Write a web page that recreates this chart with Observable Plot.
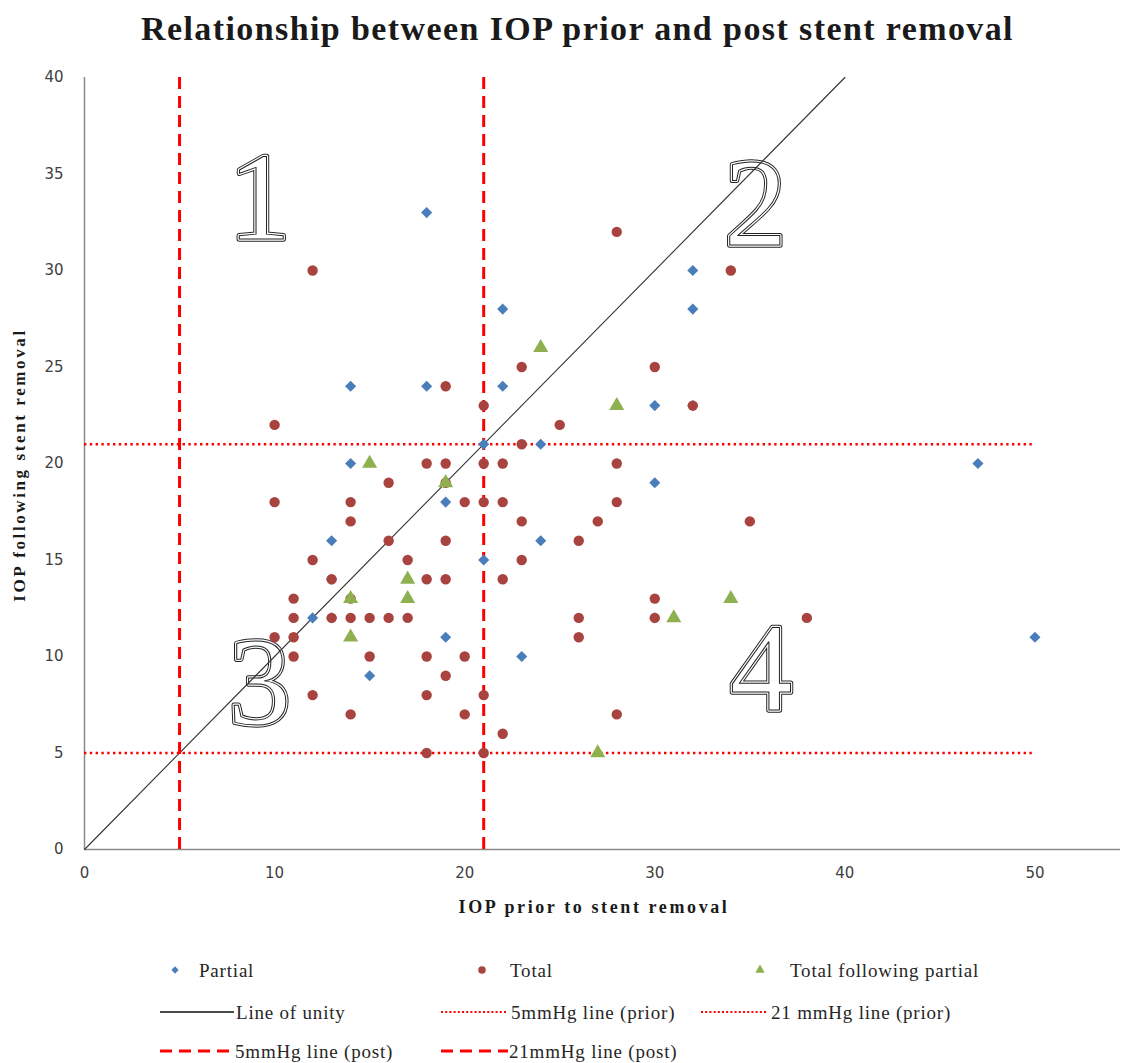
<!DOCTYPE html>
<html><head><meta charset="utf-8">
<script src="https://cdn.jsdelivr.net/npm/d3@7"></script>
<script src="https://cdn.jsdelivr.net/npm/@observablehq/plot@0.6"></script>
<style>
body{margin:0;background:#fff;}
#title{height:60px;width:1121px;box-sizing:border-box;padding-left:34px;text-align:center;font:bold 34px "Liberation Serif",serif;letter-spacing:1.4px;line-height:58px;color:#1a1a1a;}
#chart svg, #legend svg{display:block;}
</style></head><body>
<div id="title">Relationship between IOP prior and post stent removal</div>
<div id="chart"></div>
<div id="legend"></div>
<script>
// Partial
const partialPrior = [18,22,32,32,14,18,22,30,32,21,24,14,47,30,19,13,24,21,13,12,13,30,19,50,23,15];
const partialPost  = [33,28,30,28,24,24,24,23,23,21,21,20,20,19,18,16,16,15,14,12,12,12,11,11,10,9];
// Total
const totalPrior = [12,28,34,19,23,30,21,32,10,25,23,18,19,21,22,28,16,19,10,14,20,21,22,28,14,23,27,35,16,19,26,12,17,23,13,18,19,22,11,14,30,11,13,14,15,16,17,26,30,38,10,11,26,11,15,18,20,19,12,18,21,14,20,28,22,18,21];
const totalPost  = [30,32,30,24,25,25,23,23,22,22,21,20,20,20,20,20,19,19,18,18,18,18,18,18,17,17,17,17,16,16,16,15,15,15,14,14,14,14,13,13,13,12,12,12,12,12,12,12,12,12,11,11,11,10,10,10,10,9,8,8,8,7,7,7,6,5,5];
// Total following partial
const tfpPrior = [24,28,15,19,17,14,17,14,31,34,27];
const tfpPost  = [26,23,20,19,14,13,13,11,12,13,5];
// reference lines
const unity = [0, 40];
const postLines = [5, 21];   // vertical dashed (x)
const priorLines = [5, 21];  // horizontal dotted (y)
const xTicks = [0,10,20,30,40,50];
const yTicks = [0,5,10,15,20,25,30,35,40];
// quadrant labels
const quadLabel = ["1","2","3","4"];
const quadX = [9.2, 35.3, 9.2, 35.6];
const quadY = [33.7, 33.4, 8.6, 9.3];

const toRows = (xs, ys) => xs.map((x,i)=>({x, y: ys[i]}));
const partial = toRows(partialPrior, partialPost);
const total = toRows(totalPrior, totalPost);
const tfp = toRows(tfpPrior, tfpPost);
const quads = quadLabel.map((t,i)=>({t, x: quadX[i], y: quadY[i]}));

const BLUE="#4a7ebb", RED="#a9433f", GREEN="#8fb04f", LINE_RED="#ff0000";
const qOpts = {x:"x", y:"y", text:"t", fontSize:125, fontFamily:"Liberation Serif"};

const W=1121, H=870, mL=84, mR=1, mT=17, mB=81;
const chart = Plot.plot({
  width: W, height: H,
  marginLeft: mL, marginRight: mR, marginTop: mT, marginBottom: mB,
  style: {fontFamily: "DejaVu Sans", fontSize: "15px", color: "#404040", background: "#fff"},
  x: {domain: [0, 54.5]},
  y: {domain: [0, 40]},
  marks: [
    Plot.text(quads, {...qOpts, fill:"none", stroke:"#222", strokeWidth:5.4}),
    Plot.text(quads, {...qOpts, fill:"white", stroke:"white", strokeWidth:3.4, paintOrder:"stroke"}),
    Plot.text(quads, {...qOpts, fill:"none", stroke:"#222", strokeWidth:1}),
    Plot.ruleY([0], {stroke:"#8a8a8a", strokeWidth:1.5}),
    Plot.ruleX([0], {stroke:"#8a8a8a", strokeWidth:1.5}),
    Plot.line(unity.map(v=>({x:v,y:v})), {x:"x", y:"y", stroke:"#333", strokeWidth:1.1}),
    Plot.ruleY(priorLines, {x1:0, x2:50, stroke:LINE_RED, strokeWidth:2.4, strokeDasharray:"2.4,3.4"}),
    Plot.ruleX(postLines, {y1:0, y2:40, stroke:LINE_RED, strokeWidth:3, strokeDasharray:"12,7"}),
    Plot.dot(partial, {x:"x", y:"y", symbol:"diamond2", r:5, fill:BLUE}),
    Plot.dot(total, {x:"x", y:"y", symbol:"circle", r:5.2, fill:RED}),
    Plot.dot(tfp, {x:"x", y:"y", symbol:"triangle", r:5.6, fill:GREEN}),
    Plot.axisX({ticks: xTicks, tickSize: 0, tickPadding: 18, label: null}),
    Plot.axisY({ticks: yTicks, tickSize: 0, tickPadding: 21, label: null})
  ]
});
const svg = d3.select(chart);
svg.append("text")
  .attr("x", (mL + W - mR)/2 - 8).attr("y", H - mB + 64)
  .attr("text-anchor","middle")
  .style("font","bold 18px 'Liberation Serif', serif").style("letter-spacing","2.6px").attr("fill","#1a1a1a")
  .text("IOP prior to stent removal");
svg.append("text")
  .attr("transform", `translate(25,${(mT + H - mB)/2 + 2}) rotate(-90)`)
  .attr("text-anchor","middle")
  .style("font","bold 17px 'Liberation Serif', serif").style("letter-spacing","2.6px").attr("fill","#1a1a1a")
  .text("IOP following stent removal");
document.getElementById("chart").appendChild(chart);

// Legend
const LH = 1063 - 60 - H;
const lg = d3.select("#legend").append("svg").attr("width", W).attr("height", LH);
const font = "19px 'Liberation Serif', serif";
const rows = [40, 82, 121];
const items = [
  {type:"sym", sym:d3.symbolDiamond2, size:34, color:BLUE, x:175, tx:199, row:0, label:"Partial"},
  {type:"sym", sym:d3.symbolCircle, size:44, color:RED, x:482, tx:510, row:0, label:"Total"},
  {type:"sym", sym:d3.symbolTriangle, size:38, color:GREEN, x:760, tx:790, row:0, label:"Total following partial"},
  {type:"line", x1:160, x2:234, tx:236, row:1, stroke:"#111", w:1.3, dash:null, label:"Line of unity"},
  {type:"line", x1:441, x2:507, tx:511, row:1, stroke:LINE_RED, w:2, dash:"2,2.2", label:"5mmHg line (prior)"},
  {type:"line", x1:701, x2:766, tx:771, row:1, stroke:LINE_RED, w:2, dash:"2,2.2", label:"21 mmHg line (prior)"},
  {type:"line", x1:160, x2:234, tx:235, row:2, stroke:LINE_RED, w:3, dash:"12,7", label:"5mmHg line (post)"},
  {type:"line", x1:441, x2:508, tx:509, row:2, stroke:LINE_RED, w:3, dash:"12,7", label:"21mmHg line (post)"}
];
for (const it of items) {
  const y = rows[it.row];
  if (it.type === "sym") {
    lg.append("path").attr("d", d3.symbol(it.sym, it.size)()).attr("transform",`translate(${it.x},${y})`).attr("fill", it.color);
  } else {
    const l = lg.append("line").attr("x1",it.x1).attr("x2",it.x2).attr("y1",y).attr("y2",y)
      .attr("stroke",it.stroke).attr("stroke-width",it.w);
    if (it.dash) l.attr("stroke-dasharray", it.dash);
  }
  lg.append("text").attr("x", it.tx).attr("y", y).attr("dy","0.35em")
    .style("font", font).style("letter-spacing","0.8px").attr("fill","#262626").text(it.label);
}
</script>
</body></html>
